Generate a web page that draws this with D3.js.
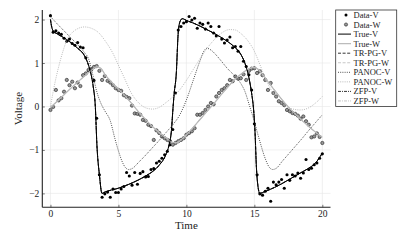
<!DOCTYPE html>
<html><head><meta charset="utf-8">
<script src="https://cdn.jsdelivr.net/npm/d3@7"></script>
<style>body{margin:0;background:#fff}svg{display:block}text{font-family:"Liberation Serif","Times New Roman",serif}</style>
</head><body><svg id="c" width="407" height="241"></svg>
<script>
// ---- data ----
const dataT = [0,0.2,0.4,0.6,0.8,1,1.2,1.4,1.6,1.8,2,2.2,2.4,2.6,2.8,3,3.2,3.4,3.6,3.8,4,4.2,4.4,4.6,4.8,5,5.2,5.4,5.6,5.8,6,6.2,6.4,6.6,6.8,7,7.2,7.4,7.6,7.8,8,8.2,8.4,8.6,8.8,9,9.2,9.4,9.6,9.8,10,10.2,10.4,10.6,10.8,11,11.2,11.4,11.6,11.8,12,12.2,12.4,12.6,12.8,13,13.2,13.4,13.6,13.8,14,14.2,14.4,14.6,14.8,15,15.2,15.4,15.6,15.8,16,16.2,16.4,16.6,16.8,17,17.2,17.4,17.6,17.8,18,18.2,18.4,18.6,18.8,19,19.2,19.4,19.6,19.8,20];
const dataV = [2.09,1.71,1.74,1.69,1.66,1.57,1.50,1.55,1.45,1.41,1.47,1.37,1.35,1.12,0.83,0.86,0.60,-0.27,-1.57,-2.09,-2.01,-1.97,-2.09,-1.90,-1.98,-1.98,-1.90,-1.84,-1.52,-1.60,-1.81,-1.52,-1.79,-1.54,-1.50,-1.62,-1.61,-1.45,-1.43,-1.30,-1.26,-1.19,-1.11,-1.03,-0.88,-0.53,0.31,1.76,1.84,1.92,1.95,2.07,1.99,2.03,1.80,1.92,1.89,1.78,1.92,1.84,1.69,1.62,1.84,1.55,1.46,1.53,1.60,1.35,1.38,1.27,1.38,1.04,0.92,0.73,0.38,-0.40,-1.57,-2.01,-2.04,-1.95,-1.88,-2.18,-1.74,-1.80,-1.74,-1.68,-1.88,-1.57,-1.70,-1.57,-1.60,-1.53,-1.65,-1.53,-1.22,-1.45,-1.42,-1.34,-1.30,-1.19,-1.09];
const dataW = [-0.08,-0.01,0.38,0.14,0.19,0.34,0.61,0.49,0.57,0.42,0.55,0.47,0.72,0.76,0.84,0.85,0.91,0.93,0.82,0.61,0.70,0.59,0.55,0.49,0.42,0.38,0.36,0.26,0.22,0.19,0.02,-0.16,-0.17,-0.19,-0.31,-0.33,-0.42,-0.45,-0.77,-0.55,-0.61,-0.69,-0.73,-0.77,-0.80,-0.88,-0.84,-0.80,-0.77,-0.73,-0.65,-0.61,-0.57,-0.50,-0.19,-0.19,-0.15,-0.08,0.00,0.08,0.05,0.23,0.31,0.38,0.42,0.49,0.61,0.58,0.69,0.64,0.65,0.74,0.61,0.82,0.87,0.88,0.77,0.81,0.72,0.61,0.38,0.54,0.31,0.23,0.12,0.08,0.03,-0.08,-0.11,-0.15,-0.17,-0.21,-0.28,-0.23,-0.34,-0.42,-0.71,-0.69,-0.62,-0.70,-0.84];

const trueVt = [0,0.1,0.2,0.5,1,1.5,2,2.5,2.8,3.0,3.15,3.3,3.42,3.6,3.79,4,5,6,7,7.5,8,8.5,8.75,8.9,9.0,9.1,9.25,9.4,9.55,9.7,10,10.5,11,11.5,12,12.5,13,13.5,14,14.3,14.6,14.8,14.95,15.05,15.15,15.25,15.4,15.6,16,16.5,17,17.5,18,18.5,19,19.5,20];
const trueV  = [2.0,1.82,1.74,1.67,1.58,1.47,1.34,1.17,0.95,0.72,0.45,0.0,-0.9,-1.57,-2.0,-1.97,-1.88,-1.76,-1.6,-1.5,-1.35,-1.1,-0.85,-0.55,-0.1,0.3,0.73,1.7,1.97,2.02,1.98,1.92,1.85,1.77,1.69,1.6,1.5,1.38,1.2,1.0,0.66,0.3,-0.1,-0.6,-1.4,-1.8,-2.0,-1.98,-1.93,-1.86,-1.78,-1.69,-1.6,-1.51,-1.42,-1.3,-1.07];
const trueWt = [0,0.5,1,1.5,2,2.5,3,3.4,3.7,4,4.5,5,5.5,6,6.5,7,7.5,8,8.5,9,9.3,9.6,10,10.5,11,11.5,12,12.5,13,13.5,14,14.5,14.95,15.3,15.6,16,16.5,17,17.5,18,18.5,19,19.5,20];
const trueW  = [-0.02,0.12,0.27,0.42,0.56,0.70,0.83,0.91,0.88,0.74,0.56,0.4,0.24,0.06,-0.13,-0.3,-0.46,-0.6,-0.72,-0.83,-0.83,-0.77,-0.65,-0.48,-0.3,-0.12,0.06,0.25,0.43,0.6,0.74,0.85,0.9,0.85,0.74,0.57,0.37,0.17,-0.01,-0.17,-0.32,-0.46,-0.59,-0.71];
// TR-PG and ZFP fits lie on top of the true trajectories
const trpgV = trueV, trpgW = trueW, zfpV = trueV, zfpW = trueW;

const panocVt = [0,0.5,1,1.5,2,2.5,2.8,3.1,3.4,3.7,4,4.4,4.75,5,5.25,5.5,5.75,6,6.5,7,7.5,8,8.5,9,9.5,10,10.5,11,11.3,11.5,11.8,12.2,12.5,13,13.5,14,14.3,14.6,15,15.4,15.8,16.1,16.35,16.7,17,17.5,18,18.5,19,19.5,20];
const panocV  = [2.07,1.9,1.74,1.58,1.42,1.24,1.1,0.75,0.35,0.08,-0.1,-0.33,-0.75,-1.02,-1.25,-1.4,-1.45,-1.43,-1.28,-1.12,-0.95,-0.78,-0.6,-0.42,-0.2,0.15,0.6,1.05,1.28,1.34,1.3,1.18,1.07,0.88,0.72,0.53,0.35,0.06,-0.35,-0.8,-1.2,-1.4,-1.45,-1.4,-1.28,-1.1,-0.92,-0.74,-0.55,-0.37,-0.19];
const panocWt = [0,0.3,0.6,1,1.2,1.6,2,2.5,3,3.6,4,4.6,5,5.4,6,6.5,7,7.5,8,8.5,9,9.5,10,10.5,11,11.5,12,12.5,13.2,13.6,14,14.5,15,15.4,15.7,16,16.5,17,17.6,18.4,19,19.5,20];
const panocW  = [0,0.5,0.91,1.35,1.53,1.7,1.79,1.83,1.8,1.68,1.52,1.22,0.95,0.68,0.28,0.08,-0.03,-0.06,-0.02,0.09,0.22,0.38,0.6,0.85,1.1,1.33,1.52,1.67,1.77,1.76,1.68,1.52,1.27,0.97,0.73,0.52,0.25,0.08,-0.04,-0.08,-0.03,0.08,0.23];

const xTicks = [0,5,10,15,20];
const yTicks = [-2,-1,0,1,2];
const legendLabels = ["Data-V","Data-W","True-V","True-W","TR-PG-V","TR-PG-W","PANOC-V","PANOC-W","ZFP-V","ZFP-W"];

// ---- drawing ----
const svg = d3.select('#c');
const L = 42.3, R = 330.5, T = 10, B = 207.3;
const x = d3.scaleLinear().domain([-0.6,20.6]).range([L,R]);
const y = d3.scaleLinear().domain([-2.32,2.22]).range([B,T]);

const grid = svg.append('g').attr('stroke','#e6e6e6').attr('stroke-width',0.6);
xTicks.forEach(t=>grid.append('line').attr('x1',x(t)).attr('x2',x(t)).attr('y1',T).attr('y2',B));
yTicks.forEach(t=>grid.append('line').attr('y1',y(t)).attr('y2',y(t)).attr('x1',L).attr('x2',R));

const styles = {
  trueV:{c:'#000',w:1.0,d:null}, trueW:{c:'#b9b9b9',w:1.2,d:null},
  trpgV:{c:'#000',w:0.8,d:'3,1.6'}, trpgW:{c:'#b9b9b9',w:0.8,d:'3,1.6'},
  panocV:{c:'#222',w:0.8,d:'1,1.2'}, panocW:{c:'#aaaaaa',w:0.8,d:'1,1.2'},
  zfpV:{c:'#000',w:0.8,d:'3,1,1,1'}, zfpW:{c:'#b9b9b9',w:0.8,d:'3,1,1,1'}
};

// scatter
const gD = svg.append('g');
gD.selectAll('circle.v').data(dataT.map((t,i)=>[t,dataV[i]])).join('circle').attr('class','v')
  .attr('cx',d=>x(d[0])).attr('cy',d=>y(d[1])).attr('r',1.55).attr('fill','#000');
gD.selectAll('circle.w').data(dataT.map((t,i)=>[t,dataW[i]])).join('circle').attr('class','w')
  .attr('cx',d=>x(d[0])).attr('cy',d=>y(d[1])).attr('r',1.65).attr('fill','#979797').attr('stroke','#222').attr('stroke-width',0.6);

const line = d3.line().x(d=>x(d[0])).y(d=>y(d[1])).curve(d3.curveMonotoneX);
function draw(ts, vs, st){
  svg.append('path').attr('d',line(ts.map((t,i)=>[t,vs[i]])))
    .attr('fill','none').attr('stroke',st.c).attr('stroke-width',st.w)
    .attr('stroke-dasharray',st.d).attr('stroke-linejoin','round');
}
draw(trueVt,trueV,styles.trueV);
draw(trueWt,trueW,styles.trueW);
draw(trueVt,trpgV,styles.trpgV);
draw(trueWt,trpgW,styles.trpgW);
draw(panocVt,panocV,styles.panocV);
draw(panocWt,panocW,styles.panocW);
draw(trueVt,zfpV,styles.zfpV);
draw(trueWt,zfpW,styles.zfpW);

// axes
const ax = svg.append('g').attr('transform',`translate(0,${B})`)
  .call(d3.axisBottom(x).tickValues(xTicks).tickFormat(d3.format('d')).tickSizeInner(-2.5).tickSizeOuter(0).tickPadding(2.8));
const ay = svg.append('g').attr('transform',`translate(${L},0)`)
  .call(d3.axisLeft(y).tickValues(yTicks).tickFormat(d3.format('d')).tickSizeInner(-2.5).tickSizeOuter(0).tickPadding(3));
[ax,ay].forEach(g=>{
  g.select('.domain').attr('stroke','#222').attr('stroke-width',1.1);
  g.selectAll('.tick line').attr('stroke','#222').attr('stroke-width',0.6);
  g.selectAll('text').attr('font-family','"Liberation Serif",serif').attr('font-size',9.5).attr('fill','#222');
});
ax.select('.domain').attr('d',`M${L},0H${R}`);
ay.select('.domain').attr('d',`M0,${T}V${B}`);

svg.append('text').attr('x',(L+R)/2).attr('y',229).attr('text-anchor','middle').attr('font-size',11).attr('fill','#222').text('Time');
svg.append('text').attr('transform',`translate(18,${(T+B)/2}) rotate(-90)`).attr('text-anchor','middle').attr('dy','0.35em').attr('font-size',11).attr('fill','#222').text('Voltage');

// legend
const lg = svg.append('g');
const lx0 = 335.7, ly0 = 10, lw = 61, lh = 96.5, step = 9.55;
lg.append('rect').attr('x',lx0).attr('y',ly0).attr('width',lw).attr('height',lh).attr('fill','#fff').attr('stroke','#333').attr('stroke-width',0.8);
const legStyles = [null,null,styles.trueV,styles.trueW,styles.trpgV,styles.trpgW,styles.panocV,styles.panocW,styles.zfpV,styles.zfpW];
legendLabels.forEach((lab,i)=>{
  const yy = ly0 + 5 + i*step;
  if(i===0){ lg.append('circle').attr('cx',346).attr('cy',yy).attr('r',1.5).attr('fill','#000'); }
  else if(i===1){ lg.append('circle').attr('cx',346).attr('cy',yy).attr('r',1.6).attr('fill','#979797').attr('stroke','#222').attr('stroke-width',0.6); }
  else { const st = legStyles[i];
    lg.append('line').attr('x1',338).attr('x2',351).attr('y1',yy).attr('y2',yy).attr('stroke',st.c).attr('stroke-width',st.w).attr('stroke-dasharray',st.d); }
  lg.append('text').attr('x',353.5).attr('y',yy).attr('dy','0.35em').attr('font-size',8.5).attr('fill','#222').text(lab);
});
</script></body></html>
